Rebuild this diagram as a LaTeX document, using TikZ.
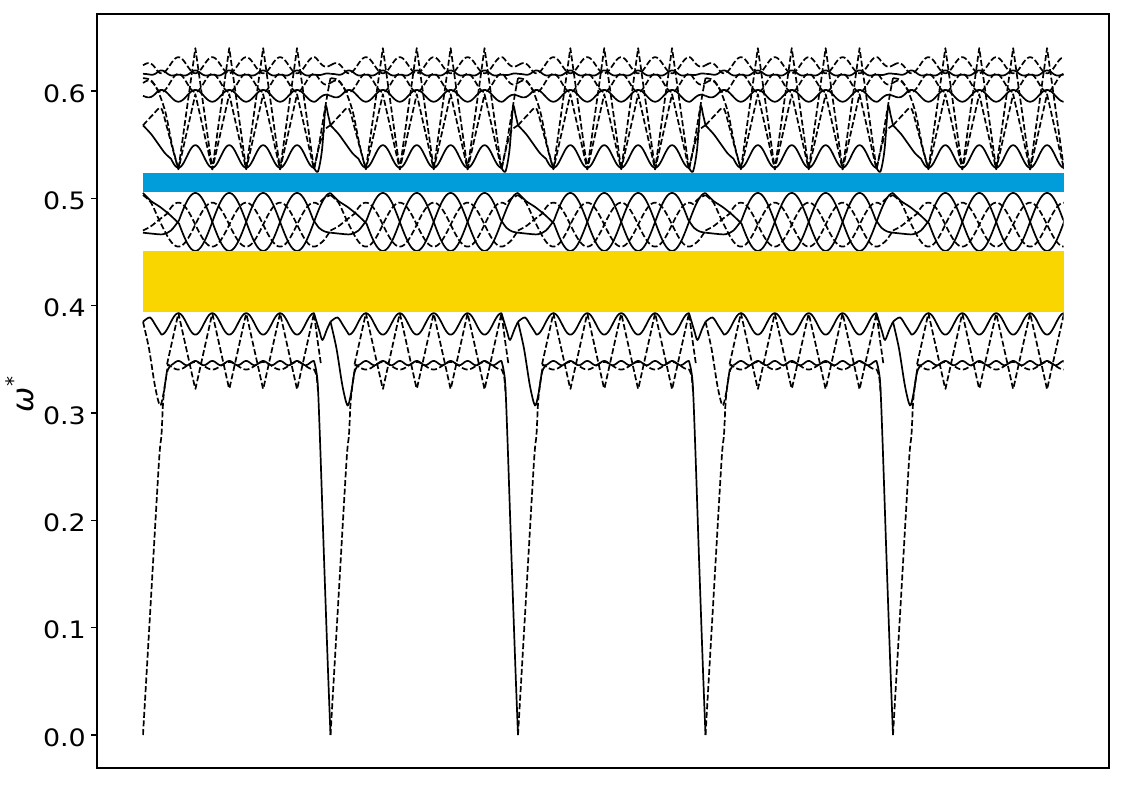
\documentclass[tikz,border=0pt]{standalone}
\usepackage{fontspec}
\setmainfont{DejaVu Sans}
\definecolor{bandblue}{RGB}{0,157,218}
\definecolor{bandgold}{RGB}{250,214,0}
\newcommand\bandseg[2]{%
\begin{scope}[xshift=#1pt]
% ---- lower group
\draw[sol] plot[smooth] coordinates{(0,0.385)(7,0.389)(13,0.381)(18.45,0.373)}
  -- plot[domain=18.45:171,samples=154] (\x,{0.383+0.010*fcc(\x)})
  -- plot[smooth] coordinates{(171,0.393)(176.5,0.376)(179.5,0.368)(184,0.378)(187.5,0.385)};
\draw[#2] plot[smooth] coordinates{(0,0.385)(6,0.36)(12,0.325)(17,0.307)(20.5,0.318)(24,0.338)(28,0.345)};
\draw[dsh] plot[smooth] coordinates{(0,0)(8,0.1275)(16,0.255)(18.5,0.28)(20.5,0.315)(25,0.345)}
  -- plot[domain=25:171,samples=147] (\x,{0.344-0.0035*fcc(\x)})
  -- plot[smooth] coordinates{(171,0.3405)(173.5,0.335)(175,0.32)};
\draw[sol] plot[domain=28:171,samples=144] (\x,{0.3465+0.002*fc2(\x)})
  -- plot[smooth] coordinates{(171,0.3485)(174.5,0.33)(177,0.275)(181,0.165)(185,0.06)(187.5,0)};
\draw[dsh] plot[domain=24:171,samples=295] (\x,{0.393-0.071*ftri(\x)})
  -- plot[smooth] coordinates{(171,0.393)(174.5,0.368)(178,0.345)};
% ---- middle group
\draw[sol] plot[smooth] coordinates{(0,0.468)(10,0.467)(20,0.4665)(28,0.47)(36,0.4795)}
  -- plot[domain=36:187.5,samples=152] (\x,{0.478+0.027*fdd(\x)});
\draw[sol] plot[smooth] coordinates{(0,0.505)(8,0.4975)(17,0.492)(27,0.4845)(36,0.4765)}
  -- plot[domain=36:170,samples=135] (\x,{0.478-0.027*fdd(\x)})
  -- plot[smooth] coordinates{(170,0.4805)(176,0.4725)(182,0.469)(187.5,0.468)};
\draw[dsh] plot[smooth] coordinates{(0,0.47)(8,0.474)(16,0.48)(24,0.4856)}
  -- plot[domain=24:175,samples=152] (\x,{0.4755+0.0205*fee(\x)})
  -- plot[smooth] coordinates{(175,0.4946)(181,0.5)(187.5,0.503)};
\draw[dsh] plot[smooth] coordinates{(0,0.503)(8,0.496)(16,0.48)(24,0.4654)}
  -- plot[domain=24:175,samples=152] (\x,{0.4755-0.0205*fee(\x)})
  -- plot[smooth] coordinates{(175,0.4564)(181,0.461)(187.5,0.47)};
% ---- top group
\draw[sol] plot[smooth] coordinates{(0,0.568)(8,0.56)(15,0.551)(22,0.542)(28,0.5369)}
  -- plot[domain=28:171,samples=144] (\x,{0.539-0.0105*fcc(\x)})
  -- plot[smooth] coordinates{(171,0.5285)(175,0.525)(179,0.545)(182.5,0.585)(185,0.578)(187.5,0.568)};
\draw[dsh] plot[smooth] coordinates{(0,0.612)(8,0.61)(15,0.6)(22.5,0.58)(29,0.55)(35.4,0.527)}
  -- plot[domain=35.4:171,samples=273] (\x,{0.527+0.113*ftri(\x)})
  -- plot[smooth] coordinates{(171,0.527)(176,0.55)(181,0.578)(185,0.6)(187.5,0.612)};
\draw[dsh] plot[smooth] coordinates{(0,0.568)(10,0.578)(18,0.584)(24,0.566)(30,0.545)(35.4,0.527)}
  -- plot[domain=35.4:171,samples=273] (\x,{0.527+0.07*ftri(\x)})
  -- plot[smooth] coordinates{(171,0.527)(176,0.548)(181,0.563)(187.5,0.568)};
\draw[sol] plot[domain=0:187.5,samples=189] (\x,{0.5955-0.0055*fcc(\x)*fenv(\x)});
\draw[sol] plot[domain=0:187.5,samples=189] (\x,{0.616+(-0.002*fcc(\x)+0.0012*fc2(\x))*fenv(\x)});
\draw[dsh] plot[domain=0:187.5,samples=189] (\x,{0.624+0.0075*fcc(\x)*fenv(\x)});
\draw[dsh] plot[domain=0:187.5,samples=189] (\x,{0.6075+0.0085*fcc(\x)*fenv(\x)});
\end{scope}}
\begin{document}
\begin{tikzpicture}[x=1pt,y=1073.33pt,
  sol/.style={line width=1.7pt,line join=round},
  dsh/.style={line width=1.7pt,line join=round,dash pattern=on 6pt off 2.6pt},
  ticklab/.style={anchor=base east,inner sep=0pt,xscale=1.12,font=\fontsize{24}{28}\selectfont},
  declare function={fcc(\u)=cos((\u-1.5)*10.61947);
    fc2(\u)=cos((\u-1.5)*21.23894);
    ftri(\u)=acos(max(-1,min(1,cos((\u-1.5)*10.61947))))/180;
    fenv(\u)=min(1,\u/15,(187.5-\u)/15);
    fdd(\u)=cos((\u-52.35)*5.309735);
    fee(\u)=cos((\u-35.4)*5.309735);}]
\useasboundingbox (0,-0.04658) rectangle (1125,0.68478);
\begin{scope}
\clip (142.3,-0.04) rectangle (1063.6,0.7);
\bandseg{143}{dsh}
\bandseg{330.5}{sol}
\bandseg{518}{sol}
\bandseg{705.5}{dsh}
\bandseg{893}{sol}
\end{scope}
\fill[bandblue] (143,0.5059) rectangle (1063.5,0.5236);
\fill[bandgold] (143,0.3941) rectangle (1063.5,0.4509);
\draw[line width=1.2pt] (97,-0.03074) rectangle (1109,0.67172);
\foreach \v/\l [count=\i] in {0/0.0,0.1/0.1,0.2/0.2,0.3/0.3,0.4/0.4,0.5/0.5,0.6/0.6}{
  \draw[line width=1.2pt] (97,\v) -- (91,\v);
  \node[ticklab] (tick\i) at (86,\v-0.0105) {\l};
}
\node[rotate=90,anchor=base,inner sep=0pt] (ylab) at (33,0.3172)
  {\fontsize{30}{34}\selectfont{\itshape ω}\raisebox{0.42em}{\fontsize{20}{20}\selectfont *}};
\end{tikzpicture}
\end{document}
